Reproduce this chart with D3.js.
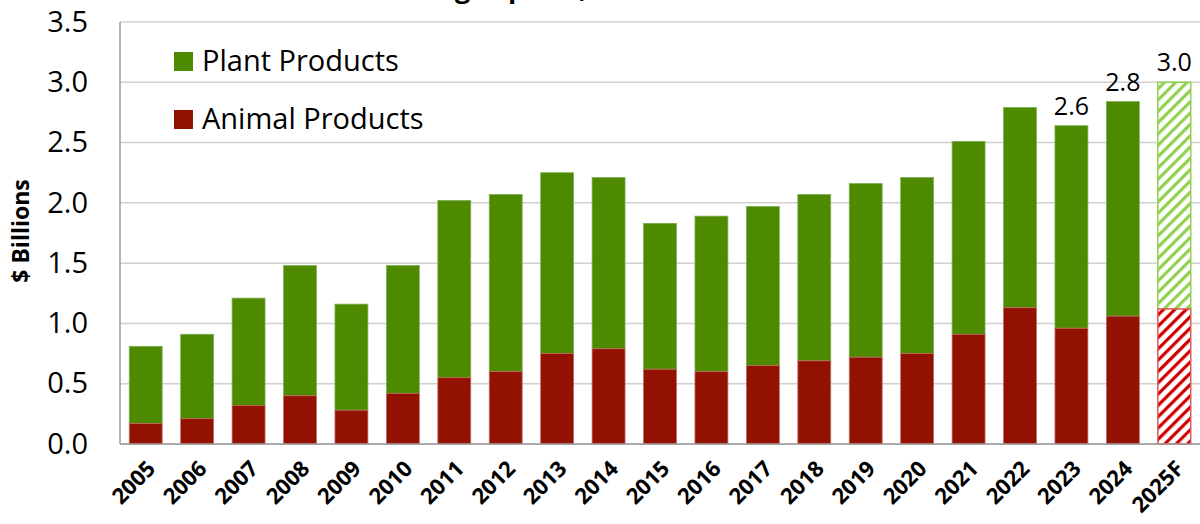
<!DOCTYPE html>
<html><head><meta charset="utf-8">
<script src="https://cdn.jsdelivr.net/npm/d3@7"></script>
<style>
html,body{margin:0;padding:0;background:#fff;}
svg{display:block;font-family:"Open Sans",Lato,sans-serif;}
</style></head>
<body><svg id="chart" width="1200" height="524"></svg>
<script>
const categories = ["2005","2006","2007","2008","2009","2010","2011","2012","2013","2014","2015","2016","2017","2018","2019","2020","2021","2022","2023","2024","2025F"];
const animalProducts = [0.17,0.21,0.32,0.40,0.28,0.42,0.55,0.60,0.75,0.79,0.62,0.60,0.65,0.69,0.72,0.75,0.91,1.13,0.96,1.06,1.12];
const totalExports  = [0.81,0.91,1.21,1.48,1.16,1.48,2.02,2.07,2.25,2.21,1.83,1.89,1.97,2.07,2.16,2.21,2.51,2.79,2.64,2.84,3.00];
const yTicks = [0,0.5,1,1.5,2,2.5,3,3.5];
const valueLabels = [{cat:"2023",text:"2.6"},{cat:"2024",text:"2.8"},{cat:"2025F",text:"3.0"}];
const seriesNames = ["Plant Products","Animal Products"];
const forecastCats = ["2025F"];
const titleText = "U.S. Ag Exports, 2005-2025F";

const svg = d3.select("#chart");
const m = {left:120, right:1200, top:22, bottom:444};
const x = d3.scaleBand().domain(categories).range([m.left, m.right]).paddingInner(0.36).paddingOuter(0.18);
const y = d3.scaleLinear().domain([0,3.5]).range([m.bottom, m.top]);

const GREEN="#4e8a00", RED="#921100", LGREEN="#92d050", HRED="#d10000";

// patterns
const defs = svg.append("defs");
function hatch(id,color){
  const p = defs.append("pattern").attr("id",id).attr("patternUnits","userSpaceOnUse")
    .attr("width",8).attr("height",8).attr("patternTransform","rotate(45)");
  p.append("rect").attr("width",8).attr("height",8).attr("fill","#fff");
  p.append("rect").attr("x",0).attr("y",0).attr("width",3.2).attr("height",8).attr("fill",color);
}
hatch("hGreen",LGREEN); hatch("hRed",HRED);

// title (mostly cut off at top, as in the reference)
const title = svg.append("text").attr("y",-2).attr("font-weight","bold").attr("font-size",27).text(titleText);
const tmp = svg.append("text").attr("font-weight","bold").attr("font-size",27).text("U.S. A");
const pre = tmp.node().getComputedTextLength(); tmp.remove();
title.attr("x",455-pre);

// gridlines
svg.append("g").selectAll("line").data(yTicks).join("line")
  .attr("x1",m.left).attr("x2",m.right).attr("y1",d=>y(d)).attr("y2",d=>y(d))
  .attr("stroke","#d0d0d0").attr("stroke-width",1.5);

// bars
const rows = categories.map((c,i)=>({c, a:animalProducts[i], t:totalExports[i], f:forecastCats.includes(c)}));
const g = svg.append("g");
g.selectAll("rect.plant").data(rows).join("rect")
  .attr("x",d=>x(d.c)).attr("width",x.bandwidth())
  .attr("y",d=>y(d.t)).attr("height",d=>y(d.a)-y(d.t))
  .attr("fill",d=>d.f?"url(#hGreen)":GREEN)
  .attr("stroke",d=>d.f?LGREEN:"#7fae55").attr("stroke-width",d=>d.f?1.5:0.8);
g.selectAll("rect.animal").data(rows).join("rect")
  .attr("x",d=>x(d.c)).attr("width",x.bandwidth())
  .attr("y",d=>y(d.a)).attr("height",d=>y(0)-y(d.a))
  .attr("fill",d=>d.f?"url(#hRed)":RED)
  .attr("stroke",d=>d.f?"#e05a5a":"#c06a60").attr("stroke-width",d=>d.f?1.5:0.8);

// value labels
svg.append("g").selectAll("text").data(valueLabels).join("text")
  .attr("x",d=>x(d.cat)+x.bandwidth()/2)
  .attr("y",d=>y(totalExports[categories.indexOf(d.cat)])-11)
  .attr("text-anchor","middle").attr("font-size",25).attr("fill","#000").text(d=>d.text);

// axes lines
svg.append("line").attr("x1",m.left).attr("x2",m.left).attr("y1",m.top).attr("y2",m.bottom)
  .attr("stroke","#9a9a9a").attr("stroke-width",1.5);
svg.append("line").attr("x1",m.left).attr("x2",m.right).attr("y1",m.bottom).attr("y2",m.bottom)
  .attr("stroke","#9a9a9a").attr("stroke-width",1.5);

// y axis labels
const yAxis = d3.axisLeft(y).tickValues(yTicks).tickFormat(d3.format(".1f")).tickSize(0).tickPadding(32);
const ya = svg.append("g").attr("transform",`translate(${m.left},0)`).call(yAxis);
ya.select(".domain").remove();
ya.selectAll("text").attr("font-size",29).attr("font-family","Open Sans").attr("fill","#000");

// x axis labels
const xAxis = d3.axisBottom(x).tickSize(0).tickPadding(0);
const xa = svg.append("g").attr("transform",`translate(0,${m.bottom})`).call(xAxis);
xa.select(".domain").remove();
xa.selectAll("text").attr("font-size",22).attr("font-weight","bold").attr("font-family","Open Sans").attr("fill","#000")
  .attr("text-anchor","end").attr("dy",0)
  .attr("transform","translate(11,26) rotate(-45)");

// y title
svg.append("text").attr("transform","translate(29,231) rotate(-90)").attr("text-anchor","middle")
  .attr("font-size",23).attr("font-weight","bold").text("$ Billions");

// legend
const leg = svg.append("g");
const legColors=[GREEN,RED];
seriesNames.forEach((n,i)=>{
  leg.append("rect").attr("x",174).attr("y",52+i*58).attr("width",19).attr("height",19).attr("fill",legColors[i]);
  leg.append("text").attr("x",202).attr("y",71+i*58).attr("font-size",29).attr("fill","#000").text(n);
});
</script></body></html>
